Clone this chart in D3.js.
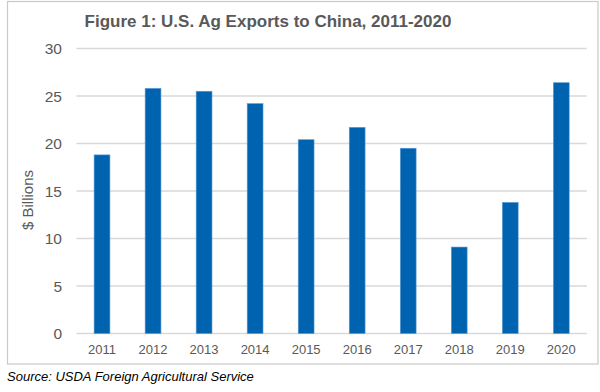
<!DOCTYPE html>
<html>
<head>
<meta charset="utf-8">
<script src="https://cdn.jsdelivr.net/npm/d3@7"></script>
<style>
  body { margin: 0; background: #fff; }
  text { font-family: "Liberation Sans", Arial, sans-serif; }
</style>
</head>
<body>
<div id="chart"></div>
<script>
var years = ['2011', '2012', '2013', '2014', '2015', '2016', '2017', '2018', '2019', '2020'];
var exports = [18.8, 25.8, 25.5, 24.2, 20.4, 21.7, 19.5, 9.1, 13.8, 26.4];
var yTicks = [0, 5, 10, 15, 20, 25, 30];

var width = 600, height = 392;

var svg = d3.select('#chart').append('svg')
    .attr('width', width)
    .attr('height', height);

// outer frame
svg.append('rect')
    .attr('x', 7.5).attr('y', 1.5)
    .attr('width', 590.5).attr('height', 362.5)
    .attr('fill', 'none')
    .attr('stroke', '#c9c9c9')
    .attr('stroke-width', 1.2);

var x = d3.scaleBand()
    .domain(years)
    .range([76.5, 586.8])
    .paddingInner(0.69)
    .paddingOuter(0.345);

var y = d3.scaleLinear()
    .domain([0, 30])
    .range([333.5, 48.5]);

// gridlines
svg.append('g')
    .selectAll('line')
    .data(yTicks)
    .enter()
    .append('line')
    .attr('x1', 76.5)
    .attr('x2', 586.8)
    .attr('y1', function(d) { return y(d); })
    .attr('y2', function(d) { return y(d); })
    .attr('stroke', '#d9d9d9')
    .attr('stroke-width', 1.3);

// y tick labels
svg.append('g')
    .selectAll('text')
    .data(yTicks)
    .enter()
    .append('text')
    .attr('x', 62)
    .attr('y', function(d) { return y(d) + 5.5; })
    .attr('text-anchor', 'end')
    .attr('font-size', '15.5px')
    .attr('fill', '#595959')
    .text(function(d) { return d; });

// bars
svg.append('g')
    .selectAll('rect')
    .data(exports)
    .enter()
    .append('rect')
    .attr('x', function(d, i) { return x(years[i]); })
    .attr('width', x.bandwidth())
    .attr('y', function(d) { return y(d); })
    .attr('height', function(d) { return y(0) - y(d); })
    .attr('fill', '#0063b0')
    .attr('stroke', '#5b9bd5')
    .attr('stroke-width', 0.6);

// x labels
svg.append('g')
    .selectAll('text')
    .data(years)
    .enter()
    .append('text')
    .attr('x', function(d) { return x(d) + x.bandwidth() / 2; })
    .attr('y', 354)
    .attr('text-anchor', 'middle')
    .attr('font-size', '13px')
    .attr('fill', '#595959')
    .text(function(d) { return d; });

// y axis title
svg.append('text')
    .attr('transform', 'translate(33, 200) rotate(-90)')
    .attr('text-anchor', 'middle')
    .attr('font-size', '15px')
    .attr('fill', '#595959')
    .text('$ Billions');

// title
svg.append('text')
    .attr('x', 268)
    .attr('y', 27)
    .attr('text-anchor', 'middle')
    .attr('font-size', '17px')
    .attr('font-weight', 'bold')
    .attr('fill', '#595959')
    .text('Figure 1: U.S. Ag Exports to China, 2011-2020');

// source note
svg.append('text')
    .attr('x', 7)
    .attr('y', 381)
    .attr('font-size', '13px')
    .attr('font-style', 'italic')
    .attr('fill', '#000')
    .text('Source: USDA Foreign Agricultural Service');
</script>
</body>
</html>
